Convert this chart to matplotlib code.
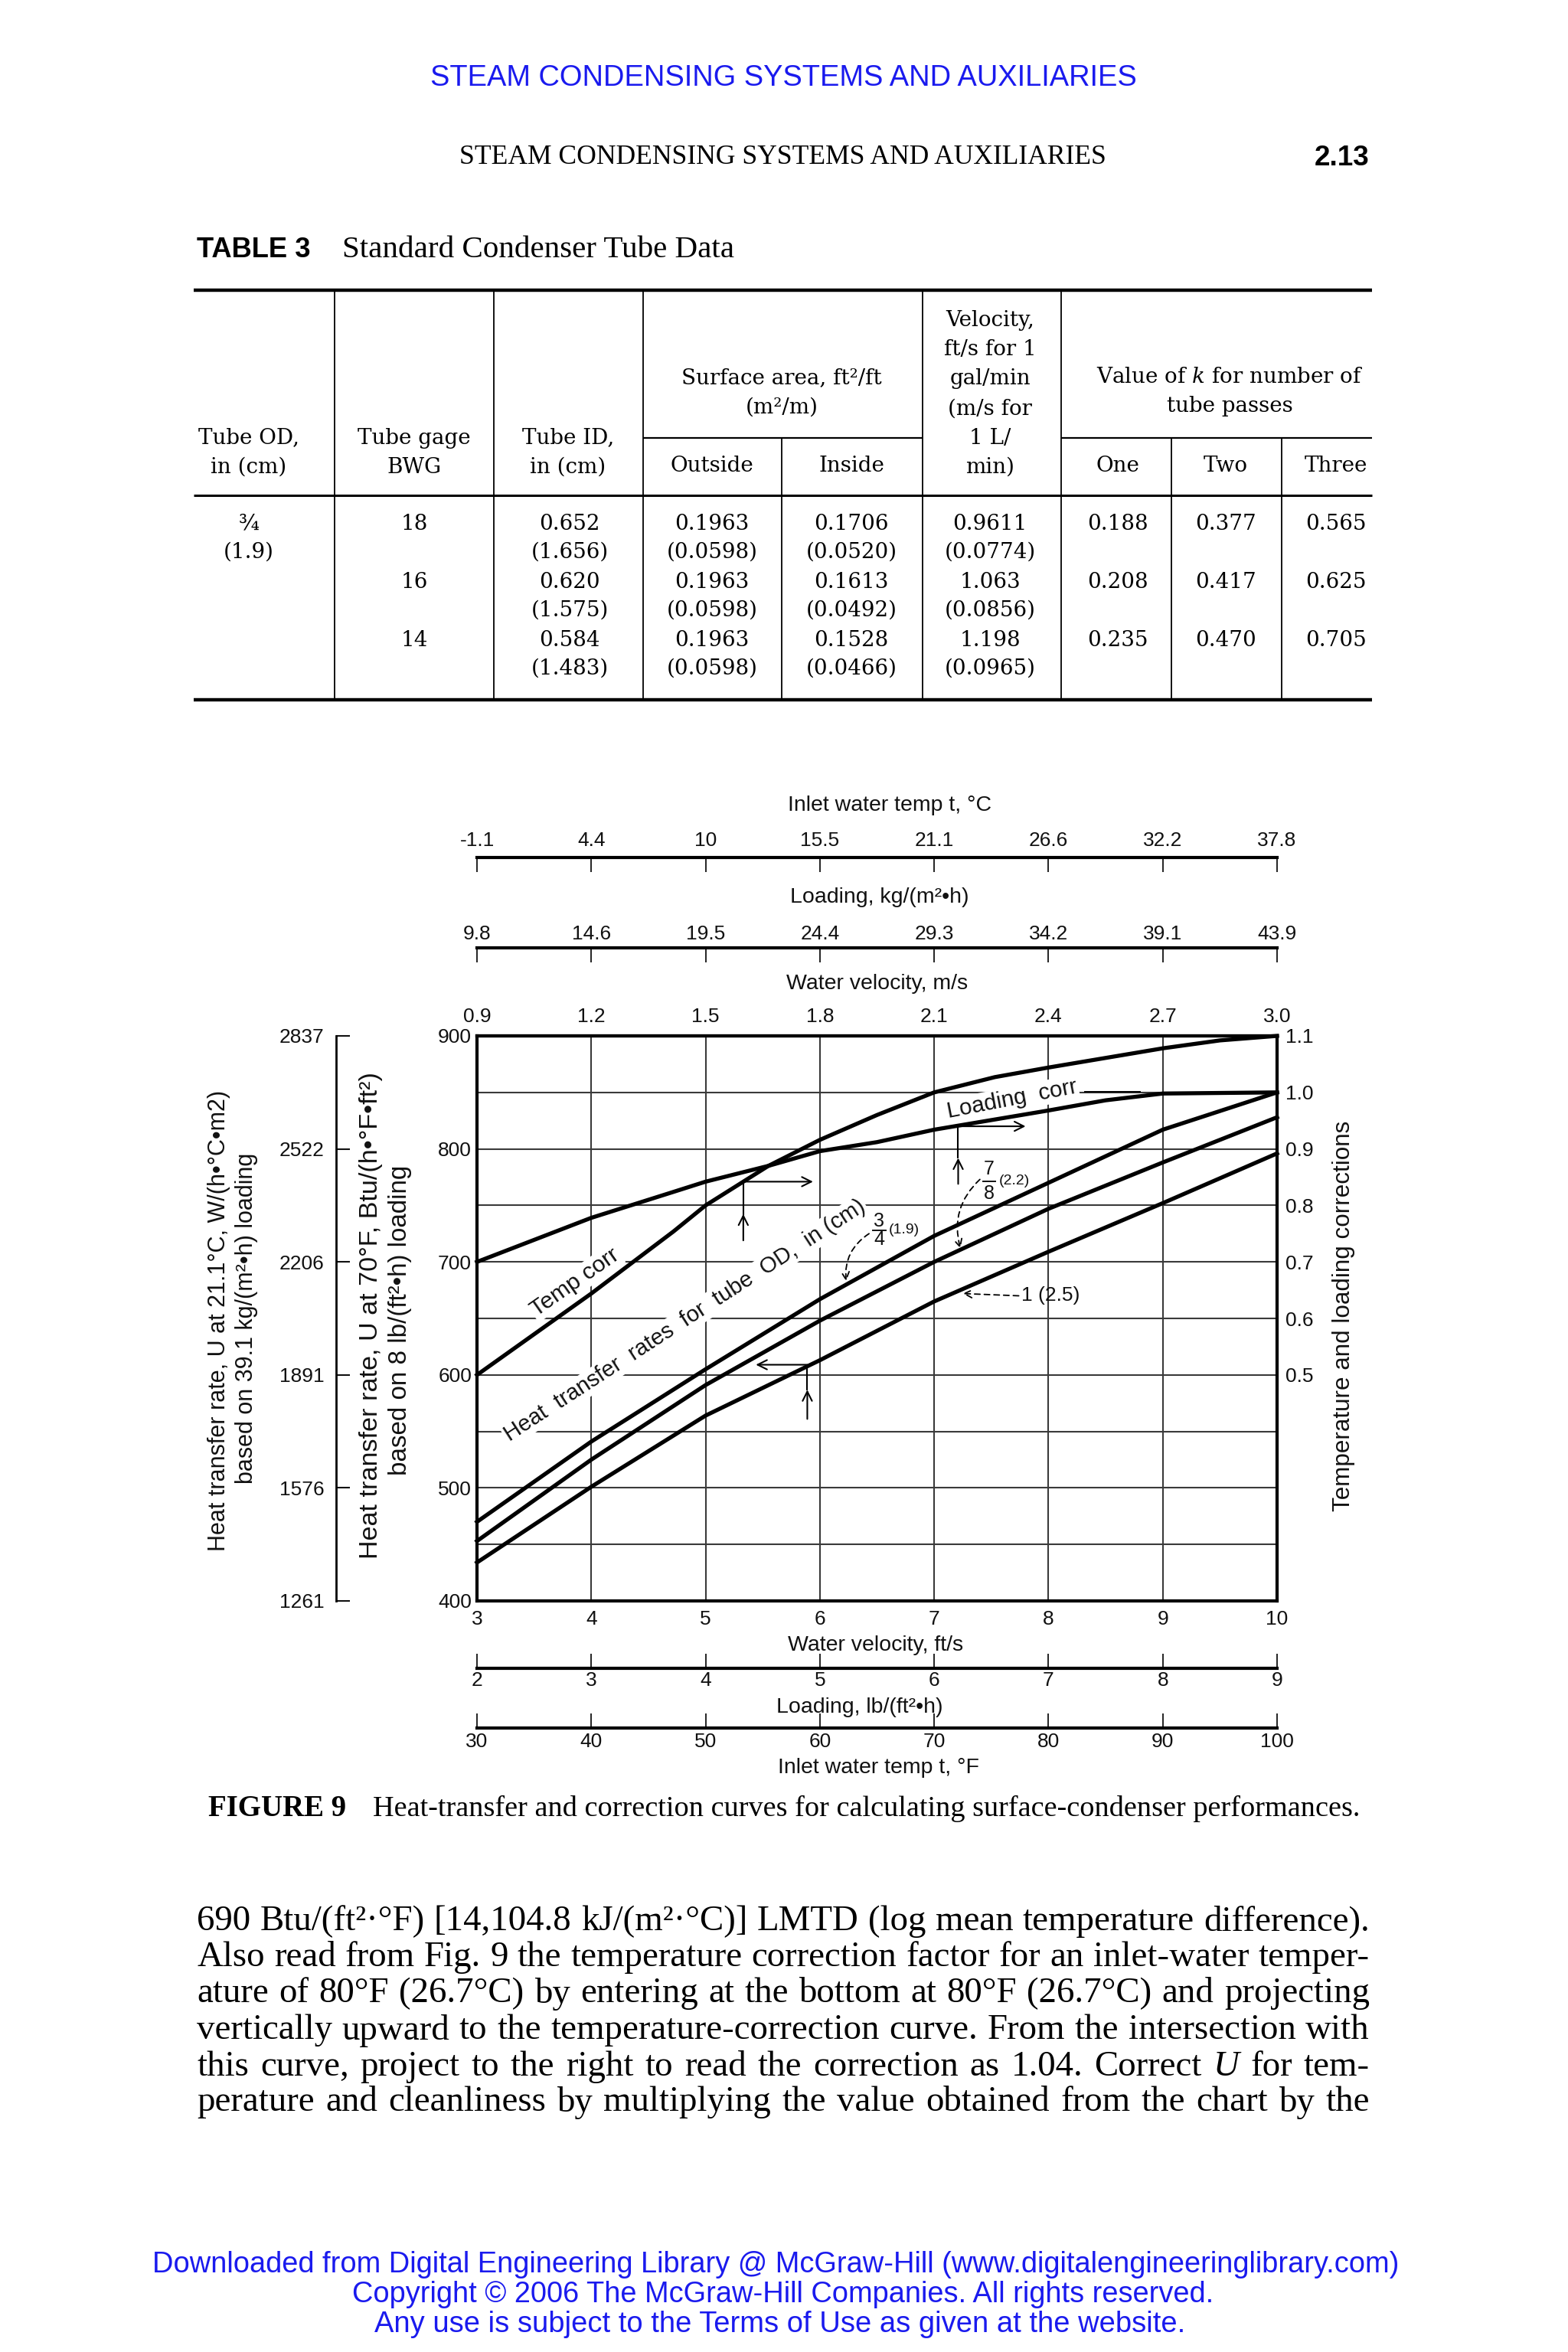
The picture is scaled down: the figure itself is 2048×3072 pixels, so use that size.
import matplotlib
matplotlib.use('Agg')
import matplotlib.pyplot as plt

plt.rcParams['mathtext.fontset'] = 'dejavuserif'

# ---------------- chart data ----------------
velocity_fts = [3, 4, 5, 6, 7, 8, 9, 10]
velocity_fts_labels = ['3', '4', '5', '6', '7', '8', '9', '10']
velocity_ms_labels = ['0.9', '1.2', '1.5', '1.8', '2.1', '2.4', '2.7', '3.0']
temp_c_labels = ['-1.1', '4.4', '10', '15.5', '21.1', '26.6', '32.2', '37.8']
loading_kg_labels = ['9.8', '14.6', '19.5', '24.4', '29.3', '34.2', '39.1', '43.9']
loading_lb_labels = ['2', '3', '4', '5', '6', '7', '8', '9']
temp_f_labels = ['30', '40', '50', '60', '70', '80', '90', '100']
u_btu_ticks = [400, 500, 600, 700, 800, 900]
u_btu_labels = ['400', '500', '600', '700', '800', '900']
u_btu_minor = [450, 550, 650, 750, 850]
u_si_labels = ['1261', '1576', '1891', '2206', '2522', '2837']
corr_ticks = [0.5, 0.6, 0.7, 0.8, 0.9, 1.0, 1.1]
corr_labels = ['0.5', '0.6', '0.7', '0.8', '0.9', '1.0', '1.1']

tube_x = [3, 4, 5, 6, 7, 8, 9, 10]
u_tube_34 = [470, 541, 605, 667, 723, 770, 817, 850]
u_tube_78 = [453, 525, 591, 648, 700, 747, 788, 828]
u_tube_1 = [434, 501, 564, 613, 665, 709, 752, 796]

temp_corr_x = [3, 4, 4.72, 5, 5.55, 6, 6.5, 7, 7.53, 8, 9, 9.5, 10]
temp_corr = [0.50, 0.644, 0.754, 0.80, 0.87, 0.916, 0.96, 1.0, 1.027, 1.044, 1.078, 1.092, 1.10]
load_corr_x = [3, 4, 4.72, 5, 5.55, 6, 6.5, 7, 8, 8.5, 9, 10]
load_corr = [0.70, 0.778, 0.824, 0.842, 0.87, 0.896, 0.912, 0.934, 0.968, 0.986, 0.998, 1.0]

# ---------------- table data ----------------
tube_od = ['¾', '(1.9)']
tube_bwg = ['18', '16', '14']
tube_id_in = ['0.652', '0.620', '0.584']
tube_id_cm = ['(1.656)', '(1.575)', '(1.483)']
area_out_ft = ['0.1963', '0.1963', '0.1963']
area_out_m = ['(0.0598)', '(0.0598)', '(0.0598)']
area_in_ft = ['0.1706', '0.1613', '0.1528']
area_in_m = ['(0.0520)', '(0.0492)', '(0.0466)']
vel_ft = ['0.9611', '1.063', '1.198']
vel_m = ['(0.0774)', '(0.0856)', '(0.0965)']
k_one = ['0.188', '0.208', '0.235']
k_two = ['0.377', '0.417', '0.470']
k_three = ['0.565', '0.625', '0.705']

body_lines = [
    "690 Btu/(ft²·°F) [14,104.8 kJ/(m²·°C)] LMTD (log mean temperature difference).",
    "Also read from Fig. 9 the temperature correction factor for an inlet-water temper-",
    "ature of 80°F (26.7°C) by entering at the bottom at 80°F (26.7°C) and projecting",
    "vertically upward to the temperature-correction curve. From the intersection with",
    "this curve, project to the right to read the correction as 1.04. Correct U for tem-",
    "perature and cleanliness by multiplying the value obtained from the chart by the",
]

W, H = 2048, 3072
fig = plt.figure(figsize=(W / 100, H / 100), dpi=100)
page = fig.add_axes([0, 0, 1, 1])
page.set_xlim(0, W)
page.set_ylim(H, 0)
page.axis('off')
renderer = fig.canvas.get_renderer()

SANS = 'Liberation Sans'
SERIF = 'Liberation Serif'
TSERIF = 'DejaVu Serif'
BLUE = '#1a1aee'
INK = '#111111'


def width_of(t):
    return t.get_window_extent(renderer).width


def fit_text(x, y, s, target, ha='center', rotation=0, host=None, **kw):
    host = host if host is not None else page
    t = host.text(x, y, s, ha=ha, va='center', fontsize=20, **kw)
    w = width_of(t)
    t.set_fontsize(20 * target / w)
    t.set_rotation(rotation)
    return t


def justify(y, line, x0, x1, fs, family):
    ts = []
    for w in line.split(' '):
        style = 'italic' if w == 'U' else 'normal'
        ts.append(page.text(0, y, w, fontsize=fs, family=family, style=style,
                            va='center', ha='left', color='k'))
    ws = [width_of(t) for t in ts]
    gap = (x1 - x0 - sum(ws)) / (len(ts) - 1)
    x = x0
    for t, w in zip(ts, ws):
        t.set_x(x)
        x += w + gap


# ---------------- page headers ----------------
fit_text(1023, 102, 'STEAM CONDENSING SYSTEMS AND AUXILIARIES', 922, family=SANS, color=BLUE)
fit_text(600, 206, 'STEAM CONDENSING SYSTEMS AND AUXILIARIES', 844, ha='left', family=SERIF, color='k')
fit_text(1789, 206, '2.13', 72, ha='right', family=SANS, weight='bold', color='k')

# ---------------- table ----------------
fit_text(257, 326, 'TABLE 3', 149, ha='left', family=SANS, weight='bold', color='k')
fit_text(447, 326, 'Standard Condenser Tube Data', 511, ha='left', family=SERIF, color='k')

page.hlines([379], 253, 1792, color='k', lw=3.2)
page.hlines([647], 253, 1792, color='k', lw=2.2)
page.hlines([914], 253, 1792, color='k', lw=3.2)
page.hlines([572], 840, 1205, color='k', lw=1.6)
page.hlines([572], 1386, 1792, color='k', lw=1.6)
page.vlines([437, 645, 840, 1205, 1386], 379, 914, color='k', lw=1.3)
page.vlines([1021, 1530, 1674], 572, 914, color='k', lw=1.3)

TFS = 20
headers = [
    (325, ['Tube OD,', 'in (cm)'], [572, 610]),
    (541, ['Tube gage', 'BWG'], [572, 610]),
    (742, ['Tube ID,', 'in (cm)'], [572, 610]),
    (1021, ['Surface area, ft²/ft', '(m²/m)'], [494, 532]),
    (930, ['Outside'], [609]),
    (1112, ['Inside'], [609]),
    (1293, ['Velocity,', 'ft/s for 1', 'gal/min', '(m/s for', '1 L/', 'min)'],
     [419, 457, 495, 534, 572, 610]),
    (1606, ['Value of $\\mathit{k}$ for number of', 'tube passes'], [492, 531]),
    (1460, ['One'], [609]),
    (1601, ['Two'], [609]),
    (1745, ['Three'], [609]),
]
for cx, texts, ys in headers:
    for s, yy in zip(texts, ys):
        page.text(cx, yy, s, ha='center', va='center', fontsize=TFS, family=TSERIF, color='k')

row_y = [684, 760, 836]
dy = 37
page.text(325, row_y[0], tube_od[0], ha='center', va='center', fontsize=TFS, family=TSERIF)
page.text(325, row_y[0] + dy, tube_od[1], ha='center', va='center', fontsize=TFS, family=TSERIF)
columns = [
    (541, tube_bwg, None),
    (744, tube_id_in, tube_id_cm),
    (930, area_out_ft, area_out_m),
    (1112, area_in_ft, area_in_m),
    (1293, vel_ft, vel_m),
    (1460, k_one, None),
    (1601, k_two, None),
    (1745, k_three, None),
]
for cx, top, bot in columns:
    for i, yy in enumerate(row_y):
        page.text(cx, yy, top[i], ha='center', va='center', fontsize=TFS, family=TSERIF)
        if bot is not None:
            page.text(cx, yy + dy, bot[i], ha='center', va='center', fontsize=TFS, family=TSERIF)

# ---------------- chart ----------------
L0, R0, T0, B0 = 623, 1668, 1353, 2091
ax = fig.add_axes([L0 / W, 1 - B0 / H, (R0 - L0) / W, (B0 - T0) / H])
ax.set_xlim(3, 10)
ax.set_ylim(400, 900)
ax.set_axisbelow(True)
ax.set_xticks(velocity_fts, labels=velocity_fts_labels)
ax.set_yticks(u_btu_ticks, labels=u_btu_labels)
ax.set_yticks(u_btu_minor, minor=True)
ax.grid(True, which='both', color='#3a3a3a', lw=1.5)
ax.tick_params(which='both', length=0, labelsize=19, colors=INK)
ax.tick_params(axis='x', pad=9)
ax.tick_params(axis='y', pad=5)
for lab in ax.get_xticklabels() + ax.get_yticklabels():
    lab.set_family(SANS)
for sp in ax.spines.values():
    sp.set_linewidth(3)

for ys in (u_tube_34, u_tube_78, u_tube_1):
    ax.plot(tube_x, ys, color='k', lw=3.8, clip_on=False, zorder=3, solid_joinstyle='round')

ax2 = ax.twinx()
ax2.set_ylim(0.1, 1.1)
ax2.set_yticks(corr_ticks, labels=corr_labels)
ax2.tick_params(length=0, labelsize=19, pad=8, colors=INK)
for lab in ax2.get_yticklabels():
    lab.set_family(SANS)
for sp in ax2.spines.values():
    sp.set_visible(False)
ax2.plot(temp_corr_x, temp_corr, color='k', lw=3.8, clip_on=False, zorder=3, solid_joinstyle='round')
ax2.plot(load_corr_x, load_corr, color='k', lw=3.8, clip_on=False, zorder=3, solid_joinstyle='round')


def sec_x(loc, labels, pad, length=14, spine_lw=3):
    s = ax.secondary_xaxis(loc)
    s.set_xticks(velocity_fts, labels=labels)
    s.tick_params(direction='in', length=length, width=1.3, pad=pad, labelsize=19, colors=INK)
    for lab in s.get_xticklabels():
        lab.set_family(SANS)
    for sp in s.spines.values():
        sp.set_linewidth(spine_lw)
    return s


sec_x(1 + (T0 - 1120) / (B0 - T0), temp_c_labels, pad=7)
sec_x(1 + (T0 - 1238) / (B0 - T0), loading_kg_labels, pad=4)
sec_x('top', velocity_ms_labels, pad=9, length=0)
sec_x(-(2179 - B0) / (B0 - T0), loading_lb_labels, pad=3)
sec_x(-(2257 - B0) / (B0 - T0), temp_f_labels, pad=4)

sy = ax.secondary_yaxis(-(L0 - 439) / (R0 - L0))
sy.set_yticks(u_btu_ticks, labels=u_si_labels)
sy.tick_params(direction='in', length=13, width=1.5, pad=11, labelsize=19, colors=INK)
for lab in sy.get_yticklabels():
    lab.set_family(SANS)
for sp in sy.spines.values():
    sp.set_linewidth(2)

# axis titles
TTL = 20.5
for x, y, s in [(1162, 1052, 'Inlet water temp t, °C'),
                (1149, 1172, 'Loading, kg/(m²•h)'),
                (1146, 1285, 'Water velocity, m/s'),
                (1144, 2149, 'Water velocity, ft/s'),
                (1123, 2230, 'Loading, lb/(ft²•h)'),
                (1147, 2309, 'Inlet water temp t, °F')]:
    page.text(x, y, s, ha='center', va='center', fontsize=TTL, family=SANS, color=INK)

fit_text(286, 1725, 'Heat transfer rate, U at 21.1°C, W/(h•°C•m2)', 602, rotation=90, family=SANS, color=INK)
fit_text(322, 1722, 'based on 39.1 kg/(m²•h) loading', 433, rotation=90, family=SANS, color=INK)
fit_text(485, 1718, 'Heat transfer rate, U at 70°F, Btu/(h•°F•ft²)', 633, rotation=90, family=SANS, color=INK)
fit_text(523, 1724, 'based on 8 lb/(ft²•h) loading', 406, rotation=90, family=SANS, color=INK)
fit_text(1755, 1719, 'Temperature and loading corrections', 507, rotation=90, family=SANS, color=INK)

# in-chart labels
box = dict(facecolor='white', edgecolor='none', pad=1.5)
fit_text(3.86, 682, 'Temp corr', 134, host=ax, rotation=35, family=SANS, color=INK,
         bbox=box, zorder=1.5, rotation_mode='anchor')
fit_text(4.82, 648, 'Heat  transfer  rates  for  tube  OD,  in (cm)', 555, host=ax, rotation=33,
         family=SANS, color=INK, bbox=box, zorder=1.5, rotation_mode='anchor')
fit_text(7.68, 844, 'Loading  corr', 172, host=ax, rotation=11, family=SANS, color=INK,
         bbox=box, zorder=1.5, rotation_mode='anchor')
ax.plot([8.32, 8.8], [850.5, 850.5], color='k', lw=1.4, zorder=2)

ARW = dict(arrowstyle='->', lw=1.5, color='k', mutation_scale=22, shrinkA=0, shrinkB=0)


def mid_arrow(x, y0, y1, frac=0.45):
    ym = y0 + (y1 - y0) * frac
    ax.annotate('', xy=(x, ym), xytext=(x, y0), arrowprops=ARW)
    ax.plot([x, x], [ym, y1], color='k', lw=1.5)


def h_arrow(x0, x1, y):
    ax.annotate('', xy=(x1, y), xytext=(x0, y), arrowprops=ARW)


mid_arrow(5.33, 719, 771)
h_arrow(5.33, 5.94, 771)
mid_arrow(7.21, 769, 820)
h_arrow(7.21, 7.80, 820)
mid_arrow(5.89, 561, 608, frac=0.55)
h_arrow(5.89, 5.44, 609)

# fraction labels
for xc, ytop, ybot, ybar, extra, xe in [(7.48, 782, 760.5, 771.5, '(2.2)', 7.57),
                                       (6.52, 736, 719.5, 728, '(1.9)', 6.60)]:
    ax.text(xc, ytop, '7' if extra == '(2.2)' else '3', ha='center', va='center',
            fontsize=18, family=SANS, color=INK)
    ax.text(xc, ybot, '8' if extra == '(2.2)' else '4', ha='center', va='center',
            fontsize=18, family=SANS, color=INK)
    ax.plot([xc - 0.055, xc + 0.055], [ybar, ybar], color=INK, lw=1.4)
    ax.text(xe, ybar, extra, ha='left', va='center', fontsize=14, family=SANS, color=INK)

DARW = dict(arrowstyle='->', lw=1.3, color='k', mutation_scale=18, shrinkA=0, shrinkB=0,
            linestyle=(0, (4, 3)), connectionstyle='arc3,rad=0.3')
ax.annotate('', xy=(7.23, 712), xytext=(7.40, 773), arrowprops=DARW)
ax.annotate('', xy=(6.23, 683), xytext=(6.43, 725), arrowprops=DARW)
ax.annotate('', xy=(7.25, 672), xytext=(7.74, 670),
            arrowprops=dict(arrowstyle='->', lw=1.3, color='k', mutation_scale=18,
                            shrinkA=0, shrinkB=0, linestyle=(0, (4, 3))))
ax.text(7.76, 670, '1 (2.5)', ha='left', va='center', fontsize=19, family=SANS, color=INK)

# ---------------- caption and body ----------------
fit_text(272, 2362, 'FIGURE 9', 180, ha='left', family=SERIF, weight='bold', color='k')
fit_text(487, 2362, 'Heat-transfer and correction curves for calculating surface-condenser performances.',
         1285, ha='left', family=SERIF, color='k')

# choose body font size so that every line fits the measure with normal spacing
probe_sizes = []
for line in body_lines:
    t = page.text(0, 0, line, fontsize=29, family=SERIF)
    probe_sizes.append(29 * (1789 - 257) / width_of(t))
    t.remove()
body_fs = min(probe_sizes) * 0.995
for line, yy in zip(body_lines, [2510, 2557, 2604, 2652, 2700, 2746]):
    justify(yy, line, 257, 1789, body_fs, SERIF)

# ---------------- footer ----------------
fit_text(1013, 2958, 'Downloaded from Digital Engineering Library @ McGraw-Hill (www.digitalengineeringlibrary.com)',
         1626, family=SANS, color=BLUE)
fit_text(1023, 2997, 'Copyright © 2006 The McGraw-Hill Companies. All rights reserved.', 1124,
         family=SANS, color=BLUE)
fit_text(1019, 3036, 'Any use is subject to the Terms of Use as given at the website.', 1054,
         family=SANS, color=BLUE)

fig.savefig('out.png', dpi=100)
